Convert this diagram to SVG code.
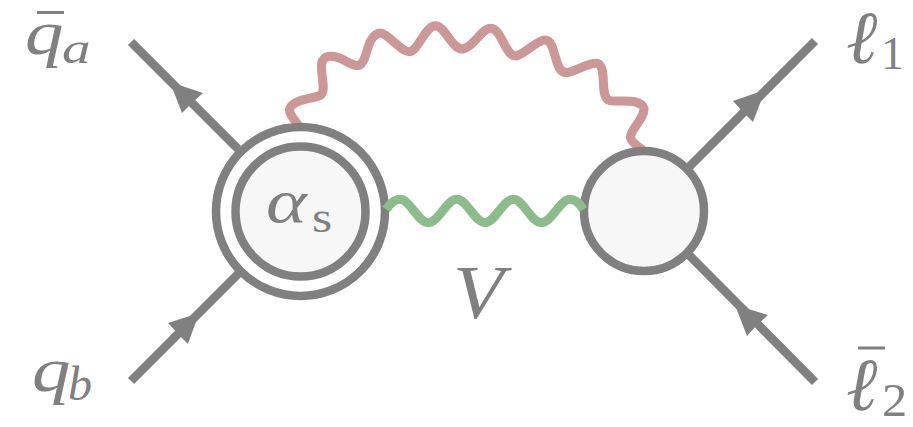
<svg xmlns="http://www.w3.org/2000/svg" width="913" height="427" viewBox="0 0 913 427">
<style>
.ln{fill:none;stroke:#808080;stroke-width:8.8}
.ah{fill:#808080;stroke:none}
.bl{fill:#f7f7f7;stroke:#808080;stroke-width:8.5}
.t{font-family:'Liberation Serif',serif;fill:#808080;font-weight:400}
.i{font-style:italic}
.bar{stroke:#808080;stroke-width:3;fill:none}
</style>
<rect width="913" height="427" fill="#fff"/>
<g id="connectors">
<path class="ln" d="M131,42L238,149"/>
<path class="ah" d="M170,82L203,93L192,103L182,113Z"/>
<path class="ln" d="M131,381L240,272"/>
<path class="ah" d="M199,313L168,323L180,336L188,344Z"/>
<path class="ln" d="M815,41L689,167"/>
<path class="ah" d="M765,90L733,101L743,112L753,122Z"/>
<path class="ln" d="M815,382L689,255"/>
<path class="ah" d="M735,305L768,315L757,325L747,336Z"/>
<path id="gluon" fill="none" stroke="#cb9797" stroke-width="9" d="M299.3,126.7C293.3,118.3 286.7,111.7 290.7,106.7C296.7,98.3 313.3,99.3 320.7,95C326.7,90 320,73.3 321.7,63.3C323.3,55 331.7,55 340,58.3C348.3,61.7 357.3,69.3 361.7,63.3C368.3,55 366.7,38.3 378.3,33.3C386.7,30.7 401.7,53.3 410,51.7C418.3,50 425,26.7 435,25.7C445,25 451.7,50 462.7,49C473.3,47.3 481.7,28.3 490.7,28.3C501.7,28.3 505,56.7 516,56C525,54.3 536.7,40 545,40C556.7,40 553.3,73.3 566.7,72.7C575,71.7 590,61.7 597.3,63.3C608.3,66.7 598.3,98.3 610,100.7C618.3,102.3 640,97.3 644,108.3C645,118.3 628.3,131.7 630.7,138.3C632.7,143.3 638.3,146.7 642.7,150"/>
</g>
<g id="node-left">
<circle cx="300.5" cy="211.5" r="84.5" fill="#fff" stroke="#808080" stroke-width="8.5"/>
<circle class="bl" cx="300.5" cy="211.5" r="65"/>
<text class="t i" transform="translate(266,222) scale(1.25,1)" font-size="62">α</text>
<text class="t" transform="translate(312,231.5) scale(1.18,1)" font-size="44">s</text>
</g>
<g id="node-right">
<circle class="bl" cx="644" cy="211" r="60"/>
</g>
<path id="boson" fill="none" stroke="#8cbb8c" stroke-width="9" d="M386,209.3C390,204 395,199.3 400,199.3C410,199.3 418,222.7 428.3,222.7C438.5,222.7 446.5,199.3 456.7,199.3C467,199.3 475,222.7 485,222.7C495,222.7 503,199.3 513.3,199.3C523.5,199.3 531,222.7 541.5,222.7C551.5,222.7 560,199.3 570,199.3C575,199.3 580,204 583.3,209.3"/>
<g id="label-qa">
<line class="bar" x1="37" y1="12.5" x2="64" y2="12.5"/>
<text class="t i" transform="translate(25,53.5) scale(1.2,1)" font-size="64">q</text>
<text class="t i" transform="translate(62,63) scale(1.3,1)" font-size="44">a</text>
</g>
<g id="label-qb">
<text class="t i" transform="translate(32,391) scale(1.2,1)" font-size="64">q</text>
<text class="t i" x="68" y="400" font-size="48">b</text>
</g>
<g id="label-V">
<text class="t i" transform="translate(453,318) scale(1.08,1)" font-size="77">V</text>
</g>
<g id="label-l1">
<text class="t i" x="846" y="62.5" font-size="75">ℓ</text>
<text class="t" x="881" y="69" font-size="46">1</text>
</g>
<g id="label-l2">
<line class="bar" x1="858" y1="348" x2="885" y2="348"/>
<text class="t i" x="846" y="409.5" font-size="75">ℓ</text>
<text class="t" transform="translate(882,416) scale(1.1,1)" font-size="46">2</text>
</g>
</svg>
